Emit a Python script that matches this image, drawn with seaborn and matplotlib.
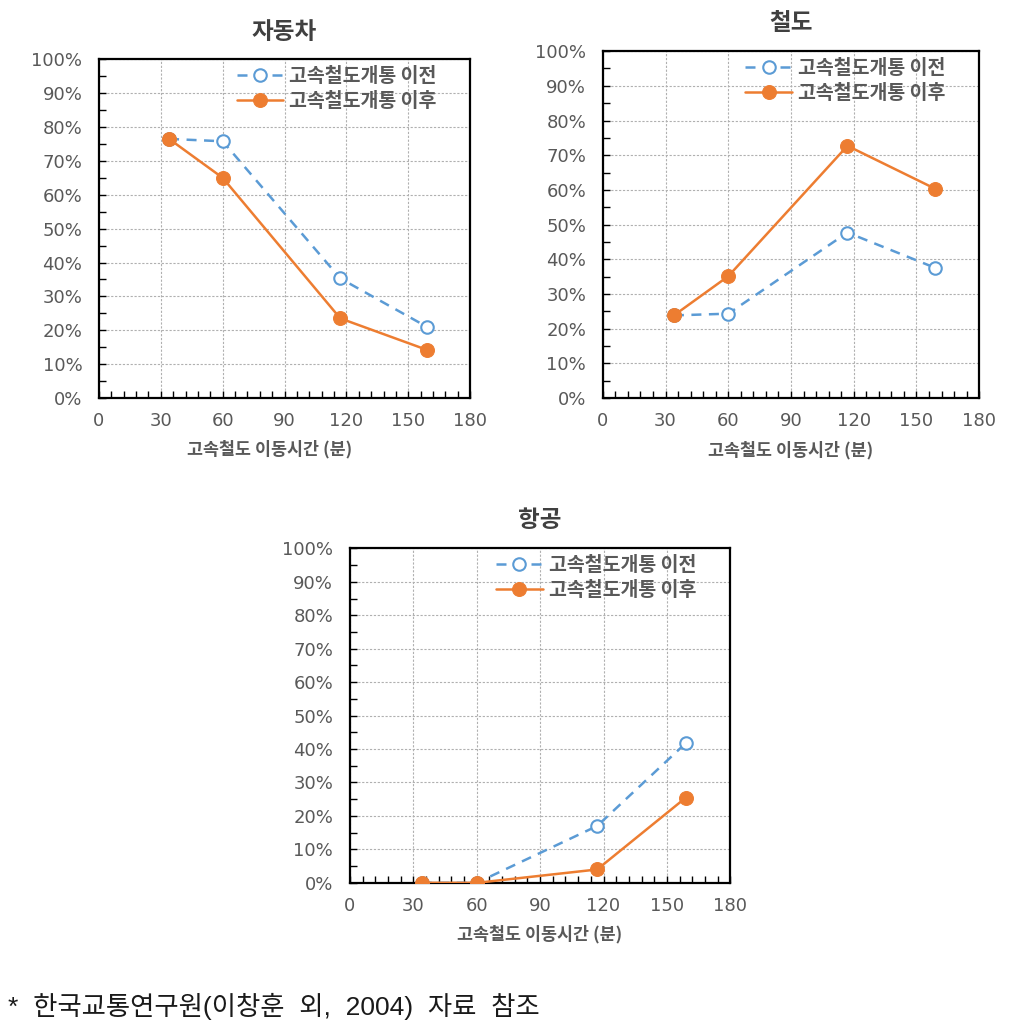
import pandas as pd
import matplotlib.pyplot as plt
import seaborn as sns
from matplotlib.ticker import MultipleLocator, PercentFormatter

# data (travel time in minutes, share in %)
travel_time = [34, 60, 117, 159]
car_before = [76.5, 75.8, 35.3, 21.0]
car_after = [76.5, 65.0, 23.5, 14.2]
rail_before = [23.8, 24.3, 47.7, 37.5]
rail_after = [23.8, 35.1, 72.7, 60.3]
air_before = [0.0, 0.0, 17.0, 41.8]
air_after = [0.0, 0.0, 4.0, 25.5]

titles = ['자동차', '철도', '항공']
label_before = '고속철도개통 이전'
label_after = '고속철도개통 이후'
xlabel = '고속철도 이동시간 (분)'
note = '*  한국교통연구원(이창훈  외,  2004)  자료  참조'

sns.set_theme(style='white')
plt.rcParams['font.family'] = ['Noto Sans CJK KR', 'DejaVu Sans']

BLUE = '#5B9BD5'
ORANGE = '#ED7D31'
GRAY = '#595959'

fig = plt.figure(figsize=(10.2, 10.23), dpi=100)

# [left, bottom, width, height] in figure fraction
positions = [
    [0.097, 0.611, 0.364, 0.331],
    [0.591, 0.611, 0.369, 0.339],
    [0.343, 0.137, 0.373, 0.327],
]
xlabel_x = [0.46, 0.5, 0.5]
series = [(car_before, car_after), (rail_before, rail_after), (air_before, air_after)]

axes = []
for pos, title, lx, (before, after) in zip(positions, titles, xlabel_x, series):
    ax = fig.add_axes(pos)
    axes.append(ax)
    df = pd.DataFrame({'time': travel_time, 'before': before, 'after': after})

    sns.lineplot(data=df, x='time', y='before', ax=ax, color=BLUE, lw=1.8,
                 dashes=False, linestyle=(0, (4, 3)), marker='o', markersize=9,
                 markerfacecolor='white', markeredgecolor=BLUE, markeredgewidth=1.5,
                 label=label_before, zorder=3)
    sns.lineplot(data=df, x='time', y='after', ax=ax, color=ORANGE, lw=1.8,
                 marker='o', markersize=10, markerfacecolor=ORANGE,
                 markeredgecolor=ORANGE, label=label_after, zorder=4)

    ax.set_xlim(0, 180)
    ax.set_ylim(0, 100)
    ax.xaxis.set_major_locator(MultipleLocator(30))
    ax.xaxis.set_minor_locator(MultipleLocator(6))
    ax.yaxis.set_major_locator(MultipleLocator(10))
    ax.yaxis.set_minor_locator(MultipleLocator(5))
    ax.yaxis.set_major_formatter(PercentFormatter(decimals=0))

    ax.tick_params(axis='both', which='both', direction='in', colors='black',
                   labelcolor=GRAY, labelsize=13, bottom=True, left=True)
    ax.tick_params(axis='x', which='major', length=5, width=1, pad=10)
    ax.tick_params(axis='y', which='major', length=5, width=1, pad=12)
    ax.tick_params(axis='both', which='minor', length=5, width=1)

    ax.grid(True, which='major', color='#b0b0b0', linestyle=(0, (2, 1.5)), lw=0.8)
    for s in ax.spines.values():
        s.set_color('black')
        s.set_linewidth(1.6)

    ax.set_xlabel(xlabel, fontsize=12.5, fontweight='bold', color=GRAY)
    ax.xaxis.set_label_coords(lx, -0.125)
    ax.set_ylabel('')
    ax.set_title(title, fontsize=17, fontweight='bold', color='#404040', pad=15)

    leg = ax.legend(loc='upper right', frameon=False, fontsize=14, handlelength=2.4,
                    borderaxespad=0.0, bbox_to_anchor=(0.93, 1.0),
                    labelspacing=0.3, handletextpad=0.3)
    for t in leg.get_texts():
        t.set_color(GRAY)
        t.set_fontweight('bold')

fig.text(0.008, 0.003, note, fontsize=19, color='#1a1a1a', ha='left', va='bottom',
         family=['Liberation Sans', 'Noto Sans CJK KR'])

# wide digit font for tick labels
fig.canvas.draw()
for ax in axes:
    for lab in ax.get_xticklabels() + ax.get_yticklabels():
        lab.set_family('DejaVu Sans')

fig.savefig('out.png', dpi=100, facecolor='white')
